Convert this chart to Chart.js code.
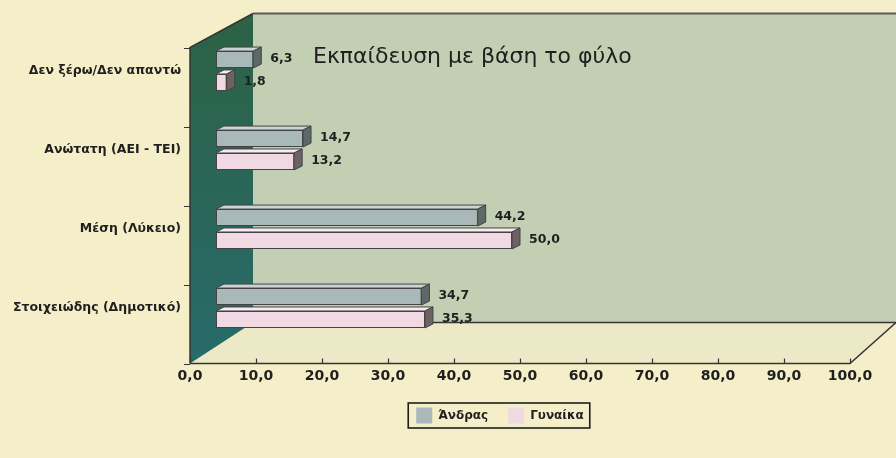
<!DOCTYPE html>
<html>
<head>
<meta charset="utf-8">
<title>Εκπαίδευση με βάση το φύλο</title>
<script src="https://cdn.jsdelivr.net/npm/chart.js@4.4.1/dist/chart.umd.min.js"></script>
<style>
    html, body { margin: 0; padding: 0; background: #f4efc9; }
    canvas { display: block; }
</style>
</head>
<body>
<canvas id="grafico-ekpaideusi" width="896" height="458"></canvas>
<script>
// Δεδομένα (%)
const katigories = ['Δεν ξέρω/Δεν απαντώ', 'Ανώτατη (ΑΕΙ - ΤΕΙ)', 'Μέση (Λύκειο)', 'Στοιχειώδης (Δημοτικό)'];
const andras = [6.3, 14.7, 44.2, 34.7];
const gynaika = [1.8, 13.2, 50.0, 35.3];
const titlos = 'Εκπαίδευση με βάση το φύλο';

const FONT = "'DejaVu Sans', sans-serif";
const KEIMENO = '#1f1f1f';

// "3D" geometry: bars sit in a plane behind the front edge of the floor
const PLATOS_PERIOXIS = 660;         // width of the plot area (front plane)
const FRONT_DY = 16;                 // front plane is this far below the bar plane
const BACK = { dx: 63, dyTop: -34, dyBottom: -41 };
const BAR_DX = 26;                   // bars start this far right of the front-left corner
const BAR_PX_ANA_MONADA = 5.92;      // bars recede a little, so their scale is tighter
const PLEVRA = { dx: 8, dy: -4 };    // extrusion of each bar

const morfi = v => Number(v).toFixed(1).replace('.', ',');

const toixoi = {
    id: 'toixoi',
    afterLayout(chart) {
        // το υπόμνημα κεντράρεται λίγο δεξιότερα από το κέντρο του καμβά
        const lg = chart.legend;
        if (lg) {
            lg.left = 150;
            lg.right = chart.chartArea.right;
            lg.width = lg.right - lg.left;
        }
    },
    beforeDraw(chart) {
        const ctx = chart.ctx;
        const a = chart.chartArea;
        const W = chart.width;
        const fl = a.left, fr = a.right;
        const ft = a.top + FRONT_DY, fb = a.bottom + FRONT_DY;
        const bl = fl + BACK.dx;
        const bt = ft + BACK.dyTop, bb = fb + BACK.dyBottom;

        ctx.save();
        ctx.fillStyle = '#f4efc9';
        ctx.fillRect(0, 0, W, chart.height);

        // πίσω τοίχος
        ctx.fillStyle = '#c2cfb3';
        ctx.fillRect(bl, bt, W - bl, bb - bt);

        // δάπεδο
        ctx.fillStyle = '#ece9c7';
        ctx.beginPath();
        ctx.moveTo(fl, fb); ctx.lineTo(fr, fb); ctx.lineTo(fr + 46, bb); ctx.lineTo(bl, bb);
        ctx.closePath(); ctx.fill();

        // αριστερός τοίχος
        const grad = ctx.createLinearGradient(0, bt, 0, fb);
        grad.addColorStop(0, '#2c6244');
        grad.addColorStop(0.5, '#2a6658');
        grad.addColorStop(1, '#286b6b');
        ctx.fillStyle = grad;
        ctx.beginPath();
        ctx.moveTo(fl, ft); ctx.lineTo(bl, bt); ctx.lineTo(bl, bb); ctx.lineTo(fl, fb);
        ctx.closePath(); ctx.fill();

        // ακμές
        ctx.strokeStyle = '#353535';
        ctx.lineWidth = 1.5;
        ctx.beginPath();
        ctx.moveTo(fl, fb); ctx.lineTo(fl, ft); ctx.lineTo(bl, bt);
        ctx.moveTo(bl, bb); ctx.lineTo(W, bb);
        ctx.moveTo(fl, fb); ctx.lineTo(fr, fb); ctx.lineTo(fr + 46, bb);
        ctx.stroke();
        ctx.strokeStyle = '#5a5a5a';
        ctx.lineWidth = 2;
        ctx.beginPath();
        ctx.moveTo(bl, bt); ctx.lineTo(W, bt);
        ctx.stroke();

        // υποδιαιρέσεις αξόνων
        ctx.strokeStyle = '#353535';
        ctx.lineWidth = 1.2;
        ctx.beginPath();
        const sx = chart.scales.x;
        sx.ticks.forEach(t => {
            const px = Math.round(sx.getPixelForValue(t.value)) + 0.5;
            ctx.moveTo(px, fb); ctx.lineTo(px, fb - 5);
        });
        const zoni = (a.bottom - a.top) / katigories.length;
        for (let i = 0; i <= katigories.length; i++) {
            const py = Math.round(a.top + i * zoni + FRONT_DY) + 0.5;
            ctx.moveTo(fl - 6, py); ctx.lineTo(fl, py);
        }
        ctx.stroke();

        // τίτλος πάνω στον πίσω τοίχο
        ctx.fillStyle = KEIMENO;
        ctx.font = `22px ${FONT}`;
        ctx.textAlign = 'left';
        ctx.textBaseline = 'alphabetic';
        ctx.fillText(titlos, fl + 123, 63);
        ctx.restore();
    }
};

const ogkos = {
    id: 'ogkos',
    afterDatasetsDraw(chart) {
        const ctx = chart.ctx;
        ctx.save();
        ctx.lineWidth = 1;
        ctx.strokeStyle = '#444444';
        chart.data.datasets.forEach((ds, di) => {
            const meta = chart.getDatasetMeta(di);
            meta.data.forEach((bar, i) => {
                const { x, y, base, height } = bar.getProps(['x', 'y', 'base', 'height'], true);
                const top = y - height / 2, bottom = y + height / 2;

                // πάνω έδρα
                ctx.fillStyle = ds.xromaPano;
                ctx.beginPath();
                ctx.moveTo(base, top); ctx.lineTo(base + PLEVRA.dx, top + PLEVRA.dy);
                ctx.lineTo(x + PLEVRA.dx, top + PLEVRA.dy); ctx.lineTo(x, top);
                ctx.closePath(); ctx.fill(); ctx.stroke();

                // πλευρική έδρα
                ctx.fillStyle = ds.xromaPlevras;
                ctx.beginPath();
                ctx.moveTo(x, top); ctx.lineTo(x + PLEVRA.dx, top + PLEVRA.dy);
                ctx.lineTo(x + PLEVRA.dx, bottom + PLEVRA.dy); ctx.lineTo(x, bottom);
                ctx.closePath(); ctx.fill(); ctx.stroke();

                // τιμή
                ctx.fillStyle = KEIMENO;
                ctx.font = `bold 12.5px ${FONT}`;
                ctx.textAlign = 'left';
                ctx.textBaseline = 'middle';
                ctx.fillText(morfi(ds.data[i]), x + PLEVRA.dx + 9, y - 1);
            });
        });
        ctx.restore();
    },
    afterDraw(chart) {
        // πλαίσιο γύρω από το υπόμνημα
        const boxes = chart.legend && chart.legend.legendHitBoxes;
        if (!boxes || !boxes.length) return;
        const first = boxes[0], last = boxes[boxes.length - 1];
        const ctx = chart.ctx;
        ctx.save();
        ctx.strokeStyle = '#1e1e1e';
        ctx.lineWidth = 1.6;
        ctx.strokeRect(first.left - 8, first.top - 4.5, last.left + last.width + 6 - (first.left - 8), first.height + 9);
        ctx.restore();
    }
};

const grafima = new Chart(document.getElementById('grafico-ekpaideusi'), {
    type: 'bar',
    data: {
        labels: katigories,
        datasets: [
            {
                label: 'Άνδρας',
                data: andras,
                xAxisID: 'xb',
                backgroundColor: '#a9b8b9',
                xromaPano: '#cbd4d4',
                xromaPlevras: '#5d6867',
                borderColor: '#444444',
                borderWidth: 1,
                borderSkipped: false
            },
            {
                label: 'Γυναίκα',
                data: gynaika,
                xAxisID: 'xb',
                backgroundColor: '#f1d9e3',
                xromaPano: '#f8ebf0',
                xromaPlevras: '#6e6166',
                borderColor: '#444444',
                borderWidth: 1,
                borderSkipped: false
            }
        ]
    },
    options: {
        indexAxis: 'y',
        responsive: false,
        animation: false,
        barPercentage: 0.74,
        categoryPercentage: 0.58,
        layout: { padding: { top: 31.5, left: 0, right: 46, bottom: 24.5 } },
        scales: {
            x: {
                type: 'linear',
                min: 0,
                max: 100,
                grid: { display: false, drawTicks: false },
                border: { display: false },
                ticks: {
                    stepSize: 10,
                    padding: 20,
                    color: KEIMENO,
                    font: { family: FONT, size: 14, weight: 'bold' },
                    callback: v => morfi(v)
                },
                afterFit: s => { s.height = 40; }
            },
            xb: {
                type: 'linear',
                display: false,
                min: -BAR_DX / BAR_PX_ANA_MONADA,
                max: (PLATOS_PERIOXIS - BAR_DX) / BAR_PX_ANA_MONADA
            },
            y: {
                type: 'category',
                grid: { display: false, drawTicks: false },
                border: { display: false },
                ticks: {
                    padding: 9,
                    color: KEIMENO,
                    font: { family: FONT, size: 12.5, weight: 'bold' }
                },
                afterFit: s => { s.width = 190; }
            }
        },
        plugins: {
            legend: {
                position: 'bottom',
                labels: {
                    boxWidth: 16,
                    boxHeight: 16,
                    padding: 20,
                    color: KEIMENO,
                    font: { family: FONT, size: 12, weight: 'bold' },
                    generateLabels: chart => Chart.defaults.plugins.legend.labels.generateLabels(chart)
                        .map(l => Object.assign(l, { lineWidth: 0, strokeStyle: 'transparent' }))
                }
            },
            tooltip: { enabled: false }
        }
    },
    plugins: [toixoi, ogkos]
});
</script>
</body>
</html>
